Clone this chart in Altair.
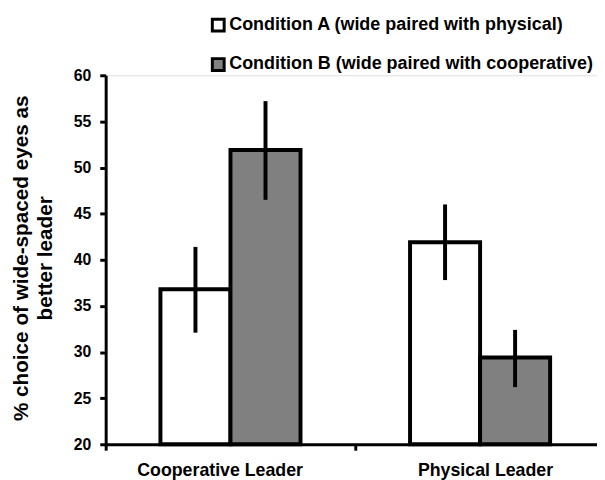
import altair as alt
import pandas as pd

leaders = ["Cooperative Leader", "Cooperative Leader", "Physical Leader", "Physical Leader"]
conditions = ["Condition A (wide paired with physical)", "Condition B (wide paired with cooperative)",
              "Condition A (wide paired with physical)", "Condition B (wide paired with cooperative)"]
means = [36.8, 51.9, 41.9, 29.4]
lows = [32.1, 46.5, 37.8, 26.2]
highs = [41.4, 57.2, 46.0, 32.4]
y_ticks = [20, 25, 30, 35, 40, 45, 50, 55, 60]
cond_order = ["Condition A (wide paired with physical)", "Condition B (wide paired with cooperative)"]
leader_order = ["Cooperative Leader", "Physical Leader"]

df = pd.DataFrame({"leader": leaders, "cond": conditions, "mean": means, "lo": lows, "hi": highs})

FONT = "Liberation Sans, Arial, sans-serif"

x_enc = alt.X("leader:N", sort=leader_order,
              scale=alt.Scale(range=[0, 506], paddingInner=0, paddingOuter=0),
              axis=alt.Axis(title=None, labelAngle=0, labelFontSize=18, labelFontWeight="bold",
                            labelColor="black", labelFont=FONT, domainColor="black", domainWidth=3,
                            tickColor="black", tickWidth=3, tickSize=6, tickBand="extent",
                            labelPadding=12,
                            labelOffset=alt.condition("datum.value == 'Cooperative Leader'",
                                                      alt.value(-11), alt.value(5))))
xo_enc = alt.XOffset("cond:N", sort=cond_order, scale=alt.Scale(paddingInner=0, paddingOuter=0.782))
y_scale = alt.Scale(domain=[20, 60], nice=False, zero=False)

bars = alt.Chart(df).mark_bar(stroke="black", strokeWidth=4, strokeJoin="miter").encode(
    x=x_enc,
    xOffset=xo_enc,
    y=alt.Y("mean:Q", scale=y_scale,
            axis=alt.Axis(values=y_ticks, grid=False,
                          title=["% choice of wide-spaced eyes as", "better leader"],
                          titleFontSize=21, titleFontWeight="bold", titleFont=FONT, titleColor="black",
                          titleAngle=270, titleX=-79, titleY=185, titleAlign="center",
                          titleBaseline="alphabetic", titleLineHeight=24,
                          labelFontSize=16, labelFontWeight="bold", labelFont=FONT, labelColor="black",
                          domainColor="black", domainWidth=3, tickColor="black", tickWidth=3,
                          tickSize=6, labelPadding=9)),
    y2=alt.datum(20),
    color=alt.Color("cond:N", sort=cond_order,
                    scale=alt.Scale(domain=cond_order, range=["#ffffff", "#808080"]),
                    legend=alt.Legend(title=None, orient="none", legendX=105, legendY=-60,
                                      direction="vertical", symbolType="square", symbolSize=144,
                                      symbolStrokeColor="black", symbolStrokeWidth=3,
                                      symbolOpacity=1,
                                      labelFontSize=18.2, labelFontWeight="bold", labelFont=FONT,
                                      labelColor="black", labelOffset=2, rowPadding=15, padding=0,
                                      labelLimit=500)),
)

errs = alt.Chart(df).mark_rule(color="black", strokeWidth=4).encode(
    x=alt.X("leader:N", sort=leader_order),
    xOffset=alt.XOffset("cond:N", sort=cond_order),
    y=alt.Y("lo:Q", scale=y_scale),
    y2="hi:Q",
)

chart = alt.layer(bars, errs).properties(
    width=498, height=374,
    autosize=alt.AutoSizeParams(type="none"),
    padding={"left": 99, "top": 65, "right": 0, "bottom": 33},
).configure_view(stroke="transparent", strokeWidth=0).configure(font=FONT)

chart.save("out.html", embed_options={"renderer": "svg", "actions": False})
